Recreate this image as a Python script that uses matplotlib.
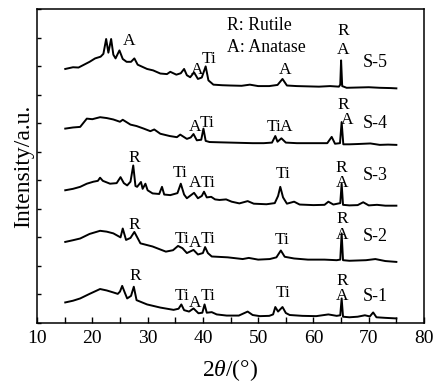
import matplotlib
matplotlib.use('Agg')
import matplotlib.pyplot as plt
from matplotlib.ticker import MultipleLocator

plt.rcParams['font.family'] = ['Liberation Serif', 'DejaVu Serif']
plt.rcParams['mathtext.fontset'] = 'custom'
plt.rcParams['mathtext.it'] = 'Liberation Serif:italic'
plt.rcParams['mathtext.rm'] = 'Liberation Serif'

# XRD patterns (2theta, intensity a.u. with stacking offset)
s1 = [(15.1, 0.72), (16.5, 0.78), (17.8, 0.86), (19.5, 1.02), (21.4, 1.19), (22.6, 1.14),
      (23.8, 1.07), (24.6, 1.02), (25.0, 1.10), (25.4, 1.30), (25.9, 1.05), (26.3, 0.86),
      (27.0, 0.95), (27.5, 1.27), (28.0, 0.80), (29.9, 0.65), (32.3, 0.54), (34.7, 0.46),
      (35.6, 0.50), (36.1, 0.65), (36.6, 0.45), (37.5, 0.40), (38.3, 0.51), (39.2, 0.34),
      (39.9, 0.36), (40.3, 0.65), (40.7, 0.36), (41.6, 0.38), (42.5, 0.30), (44.3, 0.26),
      (46.5, 0.26), (48.1, 0.40), (49.0, 0.28), (50.3, 0.24), (52.0, 0.25), (52.7, 0.30),
      (53.1, 0.56), (53.6, 0.40), (54.4, 0.56), (55.0, 0.35), (55.7, 0.28), (58.0, 0.25),
      (60.5, 0.24), (62.7, 0.30), (64.2, 0.25), (64.85, 0.27), (65.1, 0.86), (65.35, 0.22),
      (66.5, 0.20), (68.0, 0.22), (69.3, 0.27), (70.2, 0.23), (70.8, 0.37), (71.4, 0.20),
      (73.0, 0.18), (75.0, 0.16)]

s2 = [(15.1, 2.84), (16.5, 2.90), (17.8, 2.96), (19.5, 3.12), (21.4, 3.23), (22.6, 3.20),
      (23.8, 3.14), (25.1, 3.00), (25.5, 3.31), (26.1, 2.91), (26.9, 2.98), (27.6, 3.19),
      (28.7, 2.79), (30.9, 2.68), (33.3, 2.50), (34.6, 2.55), (35.5, 2.70), (36.3, 2.62),
      (37.1, 2.45), (38.3, 2.56), (39.1, 2.40), (40.0, 2.45), (40.4, 2.66), (40.9, 2.45),
      (41.6, 2.33), (44.5, 2.30), (47.2, 2.24), (48.3, 2.28), (50.0, 2.22), (52.1, 2.24),
      (53.3, 2.30), (54.1, 2.54), (54.8, 2.32), (56.5, 2.26), (59.0, 2.22), (62.0, 2.22),
      (64.2, 2.20), (64.85, 2.22), (65.1, 3.14), (65.35, 2.20), (66.5, 2.18), (68.0, 2.19),
      (69.5, 2.20), (71.2, 2.24), (73.0, 2.17), (75.0, 2.14)]

s3 = [(15.1, 4.65), (16.5, 4.70), (17.8, 4.77), (19.0, 4.88), (20.2, 4.95), (21.0, 4.98),
      (21.4, 5.09), (21.9, 4.98), (23.2, 4.88), (24.4, 4.90), (25.1, 5.11), (25.7, 4.90),
      (26.3, 4.82), (26.9, 4.95), (27.4, 5.52), (27.8, 4.80), (28.1, 4.77), (28.8, 4.94),
      (29.1, 4.70), (29.6, 4.88), (30.0, 4.65), (30.9, 4.54), (32.1, 4.52), (32.6, 4.77),
      (33.0, 4.50), (34.1, 4.48), (35.4, 4.55), (36.0, 4.88), (36.6, 4.50), (37.1, 4.37),
      (38.4, 4.56), (39.1, 4.37), (39.8, 4.45), (40.2, 4.60), (40.7, 4.40), (41.5, 4.42),
      (42.2, 4.33), (43.0, 4.31), (44.2, 4.33), (45.2, 4.25), (46.6, 4.19), (48.1, 4.27),
      (49.2, 4.18), (51.5, 4.16), (53.0, 4.20), (53.6, 4.45), (54.0, 4.77), (54.5, 4.40),
      (55.2, 4.18), (56.5, 4.25), (57.5, 4.15), (60.0, 4.13), (62.0, 4.14), (62.7, 4.25),
      (63.6, 4.15), (64.85, 4.20), (65.1, 4.88), (65.35, 4.14), (66.5, 4.12), (68.0, 4.13),
      (69.0, 4.23), (70.0, 4.12), (71.5, 4.14), (73.0, 4.11), (75.0, 4.11)]

s4 = [(15.1, 6.81), (16.5, 6.85), (17.8, 6.87), (19.0, 7.16), (20.0, 7.14), (21.4, 7.21),
      (22.6, 7.18), (23.8, 7.13), (25.0, 7.05), (25.5, 7.12), (26.9, 6.95), (28.0, 6.90),
      (29.3, 6.81), (30.5, 6.72), (31.2, 6.78), (32.3, 6.63), (34.0, 6.55), (35.3, 6.51),
      (35.9, 6.60), (37.1, 6.45), (37.8, 6.50), (38.3, 6.62), (38.9, 6.40), (39.7, 6.42),
      (40.1, 6.81), (40.5, 6.38), (41.2, 6.34), (43.0, 6.33), (45.0, 6.32), (47.0, 6.31),
      (49.0, 6.30), (51.0, 6.30), (52.5, 6.32), (53.1, 6.55), (53.5, 6.35), (54.2, 6.47),
      (55.0, 6.32), (57.0, 6.30), (59.0, 6.30), (61.0, 6.30), (62.5, 6.30), (63.3, 6.52),
      (63.9, 6.28), (64.8, 6.30), (65.1, 7.04), (65.4, 6.26), (66.5, 6.26), (68.0, 6.27),
      (70.3, 6.29), (72.0, 6.24), (73.5, 6.25), (75.0, 6.24)]

s5 = [(15.1, 8.90), (16.5, 8.96), (17.5, 8.95), (18.5, 9.05), (19.5, 9.15), (20.5, 9.27),
      (21.5, 9.33), (22.0, 9.43), (22.5, 9.95), (22.9, 9.47), (23.4, 9.95), (23.8, 9.40),
      (24.2, 9.27), (24.9, 9.55), (25.5, 9.25), (26.2, 9.15), (27.0, 9.15), (27.6, 9.27),
      (28.2, 9.05), (29.9, 8.90), (31.0, 8.85), (32.3, 8.74), (33.5, 8.72), (34.1, 8.80),
      (35.2, 8.70), (36.0, 8.75), (36.6, 8.90), (37.1, 8.68), (37.7, 8.61), (38.4, 8.78),
      (39.1, 8.55), (39.8, 8.60), (40.5, 8.99), (41.0, 8.50), (41.9, 8.35), (43.5, 8.33),
      (45.0, 8.32), (47.0, 8.31), (48.5, 8.35), (50.0, 8.30), (52.0, 8.30), (53.5, 8.34),
      (54.4, 8.55), (55.2, 8.32), (57.0, 8.30), (59.0, 8.29), (61.0, 8.28), (63.0, 8.30),
      (64.6, 8.28), (64.85, 8.35), (65.0, 9.20), (65.2, 8.30), (66.0, 8.24), (68.0, 8.25),
      (70.0, 8.26), (72.0, 8.24), (74.0, 8.23), (75.0, 8.22)]

# peak labels: (x, y, text)
labels = [
    (26.6, 9.88, 'A'), (38.9, 8.88, 'A'), (41.2, 9.25, 'Ti'), (54.9, 8.88, 'A'),
    (65.4, 10.24, 'R'), (65.4, 9.56, 'A'),
    (38.5, 6.88, 'A'), (40.8, 7.02, 'Ti'), (52.8, 6.88, 'Ti'), (55.0, 6.86, 'A'),
    (65.4, 7.62, 'R'), (66.1, 7.1, 'A'),
    (27.5, 5.78, 'R'), (35.9, 5.25, 'Ti'), (38.6, 4.9, 'A'), (40.9, 4.9, 'Ti'),
    (54.6, 5.22, 'Ti'), (65.1, 5.42, 'R'), (65.1, 4.9, 'A'),
    (27.6, 3.45, 'R'), (36.2, 2.95, 'Ti'), (38.6, 2.8, 'A'), (40.9, 2.95, 'Ti'),
    (54.4, 2.9, 'Ti'), (65.2, 3.65, 'R'), (65.2, 3.1, 'A'),
    (27.8, 1.66, 'R'), (36.2, 0.96, 'Ti'), (38.6, 0.7, 'A'), (40.9, 0.96, 'Ti'),
    (54.6, 1.06, 'Ti'), (65.2, 1.47, 'R'), (65.2, 0.95, 'A'),
]
samples = ['S-1', 'S-2', 'S-3', 'S-4', 'S-5']
sample_y = [0.94, 3.02, 5.17, 7.0, 9.12]

fig = plt.figure(figsize=(4.36, 3.87), dpi=100)
ax = fig.add_axes([0.085, 0.1654, 0.8875, 0.8113])

for s in [s1, s2, s3, s4, s5]:
    xs = [p[0] for p in s]
    ys = [p[1] for p in s]
    ax.plot(xs, ys, color='black', lw=1.4)

for x, y, t in labels:
    ax.text(x, y, t, fontsize=12.5, ha='center', va='center')
for name, y in zip(samples, sample_y):
    ax.text(71.2, y, name, fontsize=13, ha='center', va='center')

ax.text(44.4, 10.44, 'R: Rutile', fontsize=12.8, ha='left', va='center')
ax.text(44.4, 9.66, 'A: Anatase', fontsize=12.8, ha='left', va='center')

ax.set_xlim(10, 80)
ax.set_ylim(0, 11)
ax.xaxis.set_major_locator(MultipleLocator(10))
ax.xaxis.set_minor_locator(MultipleLocator(5))
ax.yaxis.set_major_locator(MultipleLocator(1))
ax.tick_params(axis='x', which='both', direction='in', length=4, width=1, labelsize=14, pad=5)
ax.tick_params(axis='y', which='both', direction='in', length=3, width=1, labelleft=False)
for sp in ax.spines.values():
    sp.set_linewidth(1.1)

ax.set_xlabel(r'2$\it{\theta}$/(°)', fontsize=17, labelpad=7)
ax.set_ylabel('Intensity/a.u.', fontsize=17, labelpad=2)

fig.savefig('out.png', dpi=100)
